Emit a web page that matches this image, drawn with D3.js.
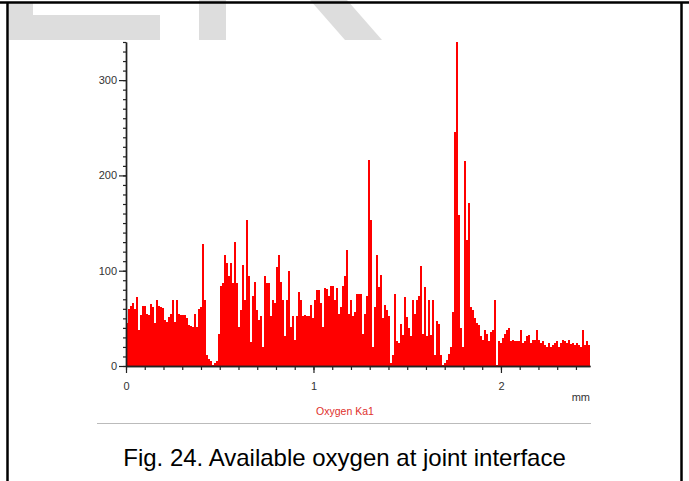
<!DOCTYPE html>
<html>
<head>
<meta charset="utf-8">
<script src="https://cdn.jsdelivr.net/npm/d3@7"></script>
<style>
  html, body { margin: 0; padding: 0; background: #fff; }
  svg { display: block; font-family: Arial, "Liberation Sans", sans-serif; }
</style>
</head>
<body>
<svg id="chart"></svg>
<script>
// Oxygen Ka1 counts along the line scan, one value per bin
const counts = [
  45, 60, 63, 66, 60, 72, 38, 53, 63, 63, 55, 54, 65, 62, 45, 69, 63, 62, 61, 48,
  46, 51, 55, 69, 46, 69, 55, 54, 54, 54, 50, 43, 42, 41, 55, 41, 60, 62, 128, 69,
  12, 7, 5, 1, 3, 5, 34, 84, 87, 116, 108, 94, 108, 87, 130, 87, 41, 59, 106, 69,
  153, 94, 25, 73, 88, 59, 48, 52, 20, 94, 87, 87, 52, 69, 66, 104, 116, 88, 69, 31,
  69, 100, 41, 52, 27, 52, 78, 69, 52, 53, 52, 52, 64, 50, 69, 80, 80, 66, 41, 82,
  81, 73, 84, 84, 69, 82, 55, 62, 84, 94, 122, 55, 69, 52, 57, 76, 76, 76, 34, 55,
  73, 216, 153, 20, 62, 116, 83, 95, 50, 64, 59, 52, 3, 12, 76, 26, 24, 44, 33, 72,
  51, 40, 31, 69, 55, 69, 73, 105, 34, 83, 31, 69, 33, 69, 12, 47, 44, 12, 1, 3,
  6, 13, 20, 57, 246, 341, 158, 40, 20, 215, 132, 171, 62, 59, 50, 45, 43, 31, 27, 38,
  34, 26, 36, 38, 69, 1, 26, 24, 29, 34, 38, 40, 26, 27, 26, 26, 26, 38, 24, 26,
  31, 33, 24, 27, 27, 38, 27, 24, 26, 22, 20, 24, 20, 22, 24, 26, 20, 24, 27, 26,
  24, 27, 23, 24, 22, 24, 22, 20, 38, 22, 26, 22
];
const scanLengthMm = 2.475;
const yMax = 340;
const yMajorTicks = [0, 100, 200, 300];
const xMajorTicks = [0, 1, 2];
const xUnit = "mm";
const seriesName = "Oxygen Ka1";
const caption = "Fig. 24. Available oxygen at joint interface";

const W = 689, H = 481;
const plot = {left: 126, right: 590, top: 42, bottom: 366};

const svg = d3.select("#chart").attr("width", W).attr("height", H);

// page decoration: cut-off watermark letters and the figure frame
const wm = svg.append("g").attr("fill", "#dddddd");
wm.append("path").attr("d", "M9,3 H33 V15 H160 V40 H9 Z");
wm.append("rect").attr("x", 199).attr("y", 0).attr("width", 27).attr("height", 40);
wm.append("path").attr("d", "M310,0 H347 L382,40 H345 Z");

const frame = svg.append("g").attr("stroke", "#000").attr("stroke-width", 2.5);
frame.append("line").attr("x1", 0).attr("x2", W).attr("y1", 2.5).attr("y2", 2.5);
frame.append("line").attr("x1", 7.5).attr("x2", 7.5).attr("y1", 2).attr("y2", H);
frame.append("line").attr("x1", 681.5).attr("x2", 681.5).attr("y1", 2).attr("y2", H);

const x = d3.scaleLinear().domain([0, scanLengthMm]).range([plot.left, plot.right]);
const y = d3.scaleLinear().domain([0, yMax]).range([plot.bottom, plot.top]);
const bin = scanLengthMm / counts.length;

// bars
svg.append("g")
  .attr("fill", "#ff0000")
  .attr("shape-rendering", "crispEdges")
  .selectAll("rect")
  .data(counts)
  .join("rect")
    .attr("x", (d, i) => x(i * bin))
    .attr("width", (d, i) => x((i + 1) * bin) - x(i * bin))
    .attr("y", d => y(Math.min(d, yMax)))
    .attr("height", d => y(0) - y(Math.min(d, yMax)));

// axes: minor ticks first, then majors with labels
const styleAxis = g => {
  g.select(".domain").attr("stroke", "#222").attr("stroke-width", 1.4);
  g.selectAll(".tick line").attr("stroke", "#222").attr("stroke-width", 1.2);
  g.selectAll("text").attr("fill", "#333").attr("font-size", 11)
    .attr("font-family", "Arial, 'Liberation Sans', sans-serif");
};

svg.append("g").attr("transform", `translate(${plot.left},0)`)
  .call(d3.axisLeft(y).tickValues(d3.range(0, yMax + 1, 10)).tickSize(3).tickSizeOuter(0).tickFormat(""))
  .call(styleAxis);
svg.append("g").attr("transform", `translate(${plot.left},0)`)
  .call(d3.axisLeft(y).tickValues(yMajorTicks).tickSize(7).tickSizeOuter(0).tickPadding(2))
  .call(styleAxis);

svg.append("g").attr("transform", `translate(0,${plot.bottom})`)
  .call(d3.axisBottom(x).tickValues(d3.range(0, 25).map(d => d / 10)).tickSize(4).tickSizeOuter(0).tickFormat(""))
  .call(styleAxis);
svg.append("g").attr("transform", `translate(0,${plot.bottom})`)
  .call(d3.axisBottom(x).tickValues(xMajorTicks).tickSize(7).tickSizeOuter(0).tickPadding(9).tickFormat(d3.format("d")))
  .call(styleAxis);

svg.append("text")
  .attr("x", plot.right).attr("y", 401)
  .attr("text-anchor", "end").attr("font-size", 11).attr("fill", "#333")
  .text(xUnit);

svg.append("text")
  .attr("x", 345).attr("y", 415)
  .attr("text-anchor", "middle").attr("font-size", 10.5).attr("fill", "#e0302c")
  .text(seriesName);

svg.append("line")
  .attr("x1", 97).attr("x2", 591).attr("y1", 423.5).attr("y2", 423.5)
  .attr("stroke", "#bbbbbb").attr("stroke-width", 1);

svg.append("text")
  .attr("x", 344.5).attr("y", 466)
  .attr("text-anchor", "middle").attr("font-size", 24).attr("fill", "#000")
  .text(caption);
</script>
</body>
</html>
